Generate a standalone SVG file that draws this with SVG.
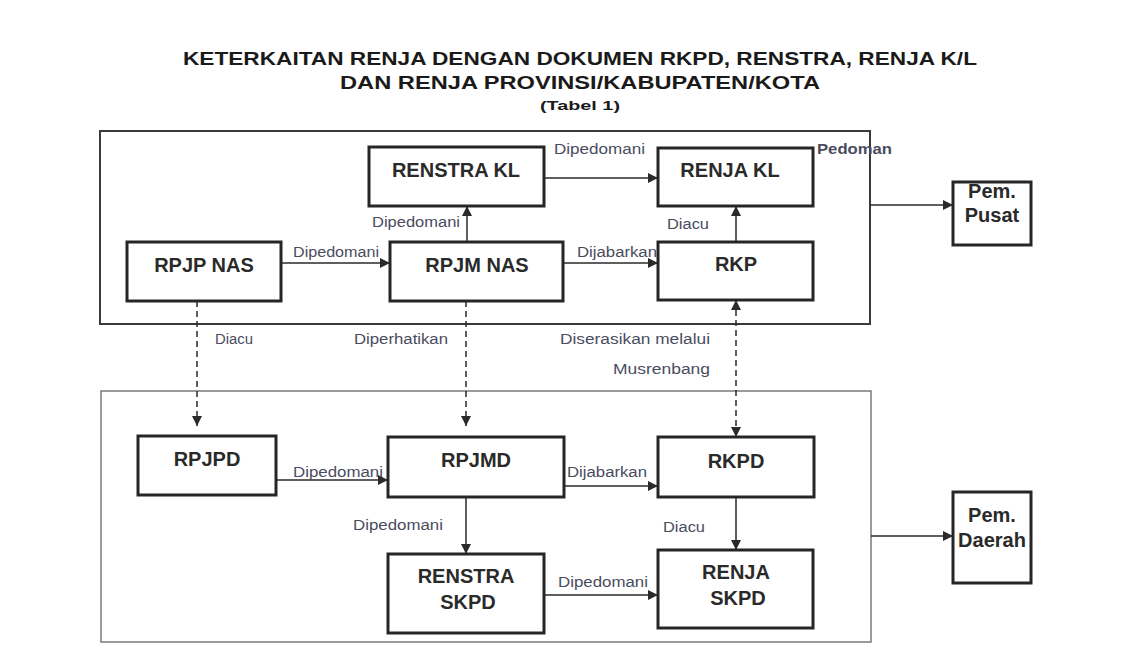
<svg xmlns="http://www.w3.org/2000/svg" width="1133" height="670" viewBox="0 0 1133 670">
<defs>
<style>
.title{font-family:"Liberation Sans",Arial,sans-serif;font-weight:bold;fill:#1a1a1a;text-anchor:middle}
.node rect{fill:#fff;stroke:#262626;stroke-width:3}
.nt{font-family:"Liberation Sans",Arial,sans-serif;font-weight:bold;font-size:20px;fill:#2a2a2a;text-anchor:middle}
.lbl{font-family:"Liberation Sans",Arial,sans-serif;font-size:14px;fill:#4a4c5e}
.frame{fill:none}
.edge{stroke:#2a2a2a;stroke-width:1.5;fill:none}
.dash{stroke:#2a2a2a;stroke-width:1.5;fill:none;stroke-dasharray:6,4}
</style>
<marker id="ah" viewBox="0 0 10 10" refX="10" refY="5" markerWidth="10" markerHeight="10" markerUnits="userSpaceOnUse" orient="auto-start-reverse">
<path d="M0,0 L10,5 L0,10 z" fill="#2a2a2a"/>
</marker>
</defs>
<rect width="1133" height="670" fill="#fff"/>
<g id="title">
<text class="title" x="580" y="65" font-size="18" textLength="794" lengthAdjust="spacingAndGlyphs">KETERKAITAN RENJA DENGAN DOKUMEN RKPD, RENSTRA, RENJA K/L</text>
<text class="title" x="580" y="89" font-size="18" textLength="480" lengthAdjust="spacingAndGlyphs">DAN RENJA PROVINSI/KABUPATEN/KOTA</text>
<text class="title" x="580" y="110" font-size="13" textLength="80" lengthAdjust="spacingAndGlyphs">(Tabel 1)</text>
</g>
<g id="frame-pusat"><rect class="frame" x="100" y="131" width="770" height="193" stroke="#3a3a3a" stroke-width="2"/></g>
<g id="frame-daerah"><rect class="frame" x="101" y="391" width="770" height="251" stroke="#666" stroke-width="1.3"/></g>

<g id="connectors">
<line class="edge" x1="544" y1="178" x2="658" y2="178" marker-end="url(#ah)"/>
<line class="edge" x1="467" y1="242" x2="467" y2="206" marker-end="url(#ah)"/>
<line class="edge" x1="736" y1="242" x2="736" y2="206" marker-end="url(#ah)"/>
<line class="edge" x1="281" y1="263" x2="390" y2="263" marker-end="url(#ah)"/>
<line class="edge" x1="563" y1="263" x2="658" y2="263" marker-end="url(#ah)"/>
<line class="edge" x1="870" y1="205" x2="953" y2="205" marker-end="url(#ah)"/>
<line class="dash" x1="197" y1="301" x2="197" y2="426" marker-end="url(#ah)"/>
<line class="dash" x1="466" y1="301" x2="466" y2="426" marker-end="url(#ah)"/>
<line class="dash" x1="736" y1="300" x2="736" y2="437" marker-start="url(#ah)" marker-end="url(#ah)"/>
<line class="edge" x1="276" y1="480" x2="388" y2="480" marker-end="url(#ah)"/>
<line class="edge" x1="564" y1="486" x2="658" y2="486" marker-end="url(#ah)"/>
<line class="edge" x1="466" y1="497" x2="466" y2="554" marker-end="url(#ah)"/>
<line class="edge" x1="736" y1="497" x2="736" y2="550" marker-end="url(#ah)"/>
<line class="edge" x1="544" y1="595" x2="658" y2="595" marker-end="url(#ah)"/>
<line class="edge" x1="871" y1="536" x2="953" y2="536" marker-end="url(#ah)"/>
</g>

<g id="labels">
<text class="lbl" x="554" y="154" textLength="91" lengthAdjust="spacingAndGlyphs">Dipedomani</text>
<text class="lbl" x="817" y="154" font-weight="bold" fill="#333" textLength="75" lengthAdjust="spacingAndGlyphs">Pedoman</text>
<text class="lbl" x="372" y="227" textLength="88" lengthAdjust="spacingAndGlyphs">Dipedomani</text>
<text class="lbl" x="667" y="229" textLength="42" lengthAdjust="spacingAndGlyphs">Diacu</text>
<text class="lbl" x="293" y="257" textLength="86" lengthAdjust="spacingAndGlyphs">Dipedomani</text>
<text class="lbl" x="577" y="257" textLength="80" lengthAdjust="spacingAndGlyphs">Dijabarkan</text>
<text class="lbl" x="215" y="344" textLength="38" lengthAdjust="spacingAndGlyphs">Diacu</text>
<text class="lbl" x="354" y="344" textLength="94" lengthAdjust="spacingAndGlyphs">Diperhatikan</text>
<text class="lbl" x="560" y="344" textLength="150" lengthAdjust="spacingAndGlyphs">Diserasikan melalui</text>
<text class="lbl" x="613" y="374" textLength="97" lengthAdjust="spacingAndGlyphs">Musrenbang</text>
<text class="lbl" x="293" y="477" textLength="90" lengthAdjust="spacingAndGlyphs">Dipedomani</text>
<text class="lbl" x="567" y="477" textLength="80" lengthAdjust="spacingAndGlyphs">Dijabarkan</text>
<text class="lbl" x="353" y="530" textLength="90" lengthAdjust="spacingAndGlyphs">Dipedomani</text>
<text class="lbl" x="663" y="532" textLength="42" lengthAdjust="spacingAndGlyphs">Diacu</text>
<text class="lbl" x="558" y="587" textLength="90" lengthAdjust="spacingAndGlyphs">Dipedomani</text>
</g>

<g id="node-renstra-kl" class="node"><rect x="369" y="147" width="175" height="59"/><text class="nt" x="456" y="177">RENSTRA KL</text></g>
<g id="node-renja-kl" class="node"><rect x="658" y="148" width="155" height="58"/><text class="nt" x="730" y="177">RENJA KL</text></g>
<g id="node-rpjp-nas" class="node"><rect x="127" y="242" width="154" height="59"/><text class="nt" x="204" y="272">RPJP NAS</text></g>
<g id="node-rpjm-nas" class="node"><rect x="390" y="242" width="173" height="59"/><text class="nt" x="477" y="272">RPJM NAS</text></g>
<g id="node-rkp" class="node"><rect x="658" y="242" width="155" height="58"/><text class="nt" x="736" y="271">RKP</text></g>
<g id="node-pem-pusat" class="node"><rect x="953" y="182" width="78" height="63"/><text class="nt" x="992" y="198" font-size="17">Pem.</text><text class="nt" x="992" y="222" font-size="17">Pusat</text></g>
<g id="node-rpjpd" class="node"><rect x="138" y="436" width="138" height="59"/><text class="nt" x="207" y="466">RPJPD</text></g>
<g id="node-rpjmd" class="node"><rect x="388" y="437" width="176" height="60"/><text class="nt" x="476" y="467">RPJMD</text></g>
<g id="node-rkpd" class="node"><rect x="658" y="437" width="156" height="60"/><text class="nt" x="736" y="468">RKPD</text></g>
<g id="node-renstra-skpd" class="node"><rect x="388" y="554" width="156" height="79"/><text class="nt" x="466" y="583">RENSTRA</text><text class="nt" x="468" y="609">SKPD</text></g>
<g id="node-renja-skpd" class="node"><rect x="658" y="550" width="155" height="78"/><text class="nt" x="736" y="579">RENJA</text><text class="nt" x="738" y="605">SKPD</text></g>
<g id="node-pem-daerah" class="node"><rect x="953" y="492" width="78" height="91"/><text class="nt" x="992" y="522" font-size="17">Pem.</text><text class="nt" x="992" y="547" font-size="17">Daerah</text></g>
</svg>
